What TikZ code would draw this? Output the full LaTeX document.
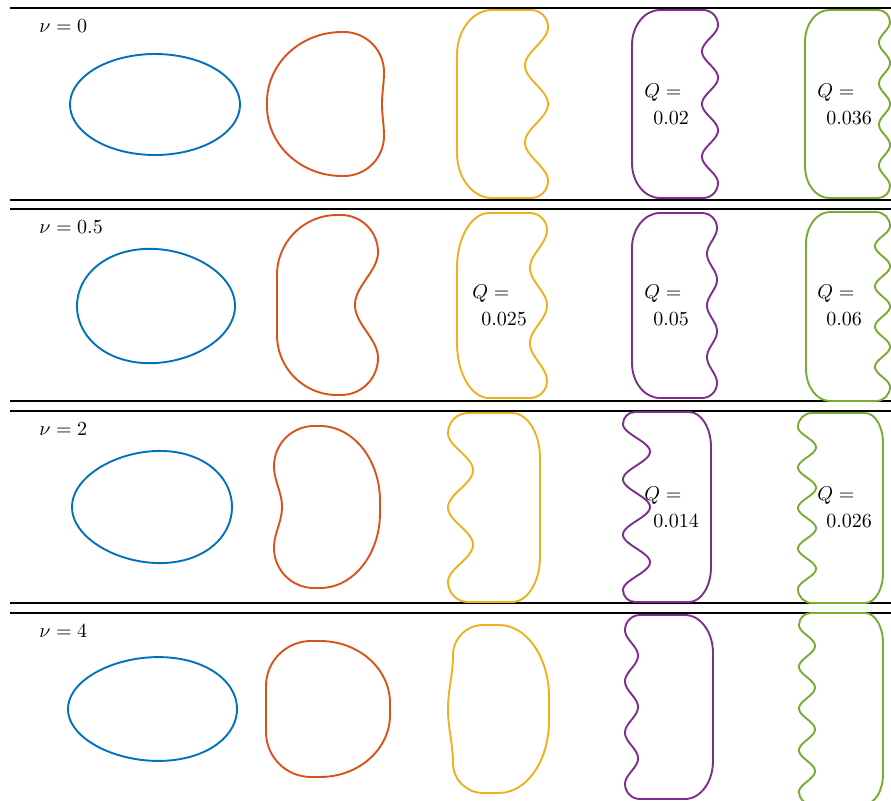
\documentclass[tikz,border=0pt]{standalone}
\usepackage{tikz}
\definecolor{mblue}{rgb}{0,0.447,0.741}
\definecolor{morange}{rgb}{0.85,0.325,0.098}
\definecolor{myellow}{rgb}{0.929,0.694,0.125}
\definecolor{mpurple}{rgb}{0.494,0.184,0.556}
\definecolor{mgreen}{rgb}{0.466,0.674,0.188}
\tikzset{
  outline/.style={line width=0.95pt,line join=round},
  rule/.style={line width=0.6pt,black},
  lab/.style={anchor=base west,inner sep=0pt}}

% egg: centre, half axes, skew
\newcommand{\egg}[5][mblue]{%
  \begin{scope}[shift={(#2)}]
    \draw[outline,#1] plot[domain=0:355,samples=72,smooth cycle]
      ({#3*cos(\x)},{#4*sin(\x)*(1+(#5)*cos(\x))});
  \end{scope}}

% blob with one wavy side: centre, half width, half height,
% plain corner rx, ry, wavy corner r, amplitude, number of dips
\newcommand{\vesicle}[9][]{%
  \begin{scope}[shift={(#2)},#1]
    \draw[outline]
      ({-#3+#5},{-#4}) -- ({#3-#7},{-#4})
      .. controls ({#3-0.448*#7},{-#4}) and ({#3},{-#4+0.448*#7}) .. ({#3},{-#4+#7})
      -- plot[domain=0:1,samples=121,smooth]
        ({#3-(#8)*(1-cos(360*#9*\x))/2},{-#4+#7+2*(#4-#7)*\x})
      .. controls ({#3},{#4-0.448*#7}) and ({#3-0.448*#7},{#4}) .. ({#3-#7},{#4})
      -- ({-#3+#5},{#4})
      .. controls ({-#3+0.448*#5},{#4}) and ({-#3},{#4-0.448*#6}) .. ({-#3},{#4-#6})
      -- ({-#3},{-#4+#6})
      .. controls ({-#3},{-#4+0.448*#6}) and ({-#3+0.448*#5},{-#4}) .. ({-#3+#5},{-#4})
      -- cycle;
  \end{scope}}

\newcommand{\qval}[3]{%
  \node[lab] (#1q) at (#2) {$Q=$};
  \node[lab,xshift=4.5pt,yshift=-13.5pt] (#1v) at (#2) {$#3$};}

\begin{document}
\begin{tikzpicture}[x=0.5pt,y=-0.5pt]
  \useasboundingbox (0,0) rectangle (891,800);
  \clip (0,0) rectangle (891,800);

  % panels
  \foreach \yy/\val [count=\i] in {8/0,209/0.5,411/2,613/4}{
    \draw[rule] (10,\yy) -- (891,\yy);
    \draw[rule] (10,\yy+192) -- (891,\yy+192);
    \node[lab] (nu\i) at (39,\yy+24) {$\nu=\val$};
  }

  % nu = 0
  \egg{155,104.5}{85}{50.5}{0}
  \vesicle[morange]{325.5,104}{58.5}{72}{75}{70}{40}{2}{1}
  \vesicle[myellow]{502.5,104}{45.5}{94}{35}{45}{17}{23}{2}
  \vesicle[mpurple]{675,104}{43}{94}{28}{35}{15}{16}{3}
  \vesicle[mgreen]{847.5,104}{42.5}{94}{24}{32}{12}{11}{4}
  \qval{pa}{644,97}{0.02}
  \qval{ga}{817,97}{0.036}

  % nu = 0.5
  \egg{156,306}{79}{57}{-0.08}
  \vesicle[morange]{327.5,305}{50.5}{90}{60}{60}{37}{23}{1}
  \vesicle[myellow]{502,305.5}{45}{92.5}{32}{55}{17}{17}{2}
  \vesicle[mpurple]{674.5,305.5}{42.5}{92.5}{28}{35}{15}{10}{3}
  \vesicle[mgreen]{848,306.5}{42}{94.5}{24}{32}{14}{15}{4}
  \qval{yb}{472,298}{0.025}
  \qval{pb}{644,298}{0.05}
  \qval{gb}{817,298}{0.06}

  % nu = 2
  \egg{152,507}{80}{55.8}{0.1}
  \vesicle[morange,xscale=-1]{327,507}{53}{81}{60}{75}{40}{8}{1}
  \vesicle[myellow,xscale=-1]{494,507.5}{46}{94.5}{28}{45}{20}{25}{2}
  \vesicle[mpurple,xscale=-1]{667,507}{44}{95}{22}{35}{12}{27}{3}
  \vesicle[mgreen,xscale=-1]{840.5,508}{42.5}{95}{18}{30}{14}{18}{4}
  \qval{pc}{644,500}{0.014}
  \qval{gc}{817,500}{0.026}

  % nu = 4
  \egg{152.5,709}{84.5}{51.8}{0.07}
  \vesicle[morange,xscale=-1]{328,709}{62}{68}{70}{62}{45}{0}{1}
  \vesicle[myellow,xscale=-1]{501,709}{48}{84}{50}{72}{30}{-5}{1}
  \vesicle[mpurple,xscale=-1]{669,707}{44}{92}{28}{38}{15}{13}{3}
  \vesicle[mgreen,xscale=-1]{841,708.5}{42}{95.5}{18}{30}{12}{16}{4}
\end{tikzpicture}
\end{document}
